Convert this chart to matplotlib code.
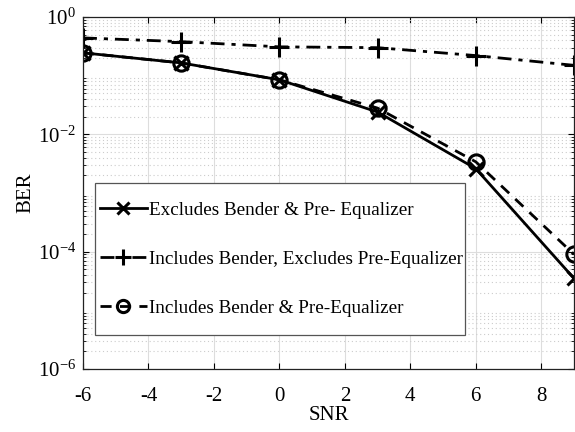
import matplotlib
matplotlib.use("Agg")
import matplotlib.pyplot as plt
import numpy as np
from matplotlib.ticker import LogLocator, NullFormatter
from matplotlib.patches import Rectangle

plt.rcParams['font.family'] = ['Liberation Serif', 'DejaVu Serif']
plt.rcParams['mathtext.fontset'] = 'custom'
plt.rcParams['mathtext.rm'] = 'Liberation Serif'
plt.rcParams['mathtext.it'] = 'Liberation Serif:italic'

snr = [-6, -3, 0, 3, 6, 9]
ber_excl = [0.245, 0.165, 0.085, 0.024, 0.0026, 3.5e-5]
ber_incl_noeq = [0.44, 0.38, 0.31, 0.30, 0.22, 0.15]
ber_incl_eq = [0.245, 0.165, 0.085, 0.028, 0.0034, 9e-5]

labels = ['Excludes Bender & Pre- Equalizer',
          'Includes Bender, Excludes Pre-Equalizer',
          'Includes Bender & Pre-Equalizer']
xticks = [-6, -4, -2, 0, 2, 4, 6, 8]

fig = plt.figure(figsize=(5.75, 4.32), dpi=100)
ax = fig.add_axes([83/575, 1-369/432, (574-83)/575, (369-17)/432])

ax.plot(snr, ber_excl, '-', color='black', lw=2, marker='x', ms=10, mew=2.2, label=labels[0])
ax.plot(snr, ber_incl_noeq, '-.', color='black', lw=2, marker='+', ms=14, mew=2.2, label=labels[1],
        dashes=(5, 2.5, 1.5, 2.5))
ax.plot(snr, ber_incl_eq, '--', color='black', lw=2, marker='o', ms=11, mew=2.2, mfc='none', label=labels[2],
        dashes=(4, 3))

ax.set_yscale('log')
ax.set_xlim(-6, 9)
ax.set_ylim(1e-6, 1)
ax.set_xticks(xticks)
ax.set_xticklabels([str(t) for t in xticks])
ax.set_yticks([1e-6, 1e-4, 1e-2, 1])
ax.set_yticklabels([r'$10^{-6}$', r'$10^{-4}$', r'$10^{-2}$', r'$10^{0}$'])
ax.yaxis.set_minor_locator(LogLocator(base=10, subs=np.arange(2, 10), numticks=20))
ax.yaxis.set_minor_formatter(NullFormatter())

ax.grid(True, which='major', axis='both', color='#dddddd', lw=0.8, ls='-')
ax.grid(True, which='minor', axis='y', color='#cccccc', lw=0.8, ls=(0, (1, 2.5)))
ax.set_axisbelow(True)

ax.tick_params(which='both', direction='in', top=True, right=True, labelsize=15)
ax.tick_params(axis='x', pad=13)
ax.tick_params(axis='y', pad=5)
ax.tick_params(which='major', length=4, width=0.8)
ax.tick_params(which='minor', length=2, width=0.6)
for s in ax.spines.values():
    s.set_linewidth(0.9)
    s.set_color('#222222')

ax.set_xlabel('SNR', fontsize=15, labelpad=0)
ax.set_ylabel('BER', fontsize=15, labelpad=2)

# legend box (axes fraction)
bx0, by0 = (95-83)/491, (369-335)/352
bw, bh = (465-95)/491, (335-183)/352
ax.add_patch(Rectangle((bx0, by0), bw, bh, transform=ax.transAxes, facecolor='white',
                       edgecolor='#555555', lw=0.9, zorder=4.5))
leg = ax.legend(loc='center left', bbox_to_anchor=(bx0, by0 + bh/2),
                fontsize=13.8, frameon=False, handlelength=2.45, handletextpad=0.1,
                borderpad=0.25, labelspacing=1.65, borderaxespad=0, markerscale=0.8)
leg.set_zorder(5)

fig.savefig('out.png', dpi=100)
